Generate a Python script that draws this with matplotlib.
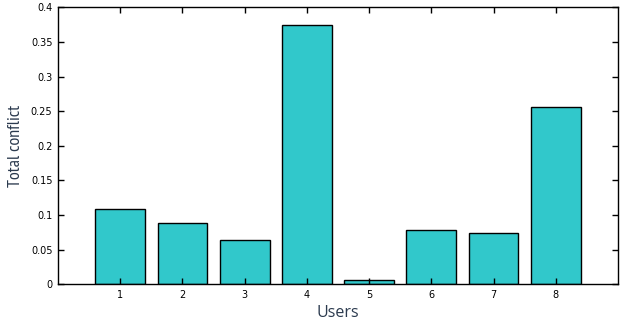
import matplotlib
matplotlib.use("Agg")
import matplotlib.pyplot as plt

users = [1, 2, 3, 4, 5, 6, 7, 8]
conflict = [0.1083, 0.088, 0.0635, 0.3744, 0.0062, 0.078, 0.0736, 0.256]
yticks = [0, 0.05, 0.1, 0.15, 0.2, 0.25, 0.3, 0.35, 0.4]
ytick_labels = ["0", "0.05", "0.1", "0.15", "0.2", "0.25", "0.3", "0.35", "0.4"]

fig = plt.figure(figsize=(6.31, 3.2), dpi=100)
ax = fig.add_axes([58/631, 1 - 284.3/320, (618-58)/631, (284.3-7.3)/320])

ax.bar(users, conflict, width=0.8, color="#31C8CB", edgecolor="black", linewidth=1.0)
ax.set_xlim(0, 9)
ax.set_ylim(0, 0.4)
ax.set_xticks(users)
ax.set_xticklabels([str(u) for u in users], fontsize=7, family="DejaVu Sans")
ax.set_yticks(yticks)
ax.set_yticklabels(ytick_labels, fontsize=7, family="DejaVu Sans")
ax.tick_params(axis="both", direction="in", top=True, right=True, length=4, width=1, pad=4)
for s in ax.spines.values():
    s.set_linewidth(1)

ax.set_xlabel("Users", fontsize=11.5, color="#2b3a4e", family=["Open Sans", "DejaVu Sans"], labelpad=4)
ax.set_ylabel("Total conflict", fontsize=13, color="#2b3a4e", family=["PT Sans Narrow", "DejaVu Sans"], labelpad=5)

fig.savefig("out.png", dpi=100)
